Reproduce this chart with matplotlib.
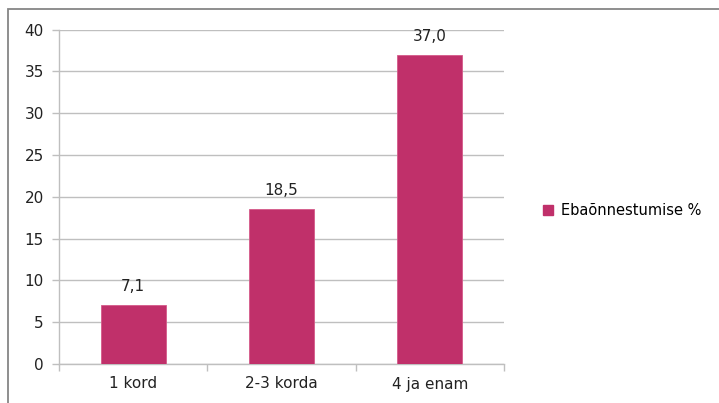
import matplotlib
matplotlib.use("Agg")
import matplotlib.pyplot as plt
from matplotlib.patches import Rectangle, Patch

categories = ["1 kord", "2-3 korda", "4 ja enam"]
values = [7.1, 18.5, 37.0]
series_name = "Ebaõnnestumise %"
yticks = [0, 5, 10, 15, 20, 25, 30, 35, 40]

bar_color = "#C0306A"
grid_color = "#BFBFBF"

plt.rcParams["font.family"] = ["DejaVu Sans"]

fig = plt.figure(figsize=(7.19, 4.03), dpi=100)
W, H = 719, 403

# outer chart frame (top and left edges visible)
fig.patches.append(Rectangle((8 / W, -0.1), 1.2, 1 - 9 / H + 0.1,
                             transform=fig.transFigure, fill=False,
                             edgecolor="#868686", linewidth=1.3))

ax = fig.add_axes([59 / W, 1 - 364 / H, (504 - 59) / W, (364 - 29.5) / H])

x = range(len(categories))
bars = ax.bar(x, values, width=0.44, color=bar_color, edgecolor="#D55A8A",
              linewidth=0.6, zorder=3, label=series_name)

for b, v in zip(bars, values):
    ax.text(b.get_x() + b.get_width() / 2, v + 1.3, f"{v:.1f}".replace(".", ","),
            ha="center", va="bottom", fontsize=11, color="#222222")

ax.set_xlim(-0.5, len(categories) - 0.5)
ax.set_ylim(0, 40)
ax.set_yticks(yticks)
ax.set_yticklabels([str(t) for t in yticks], fontsize=11, color="#222222")
ax.yaxis.grid(True, color=grid_color, linewidth=1.0, zorder=0)

ax.set_xticks(list(x))
ax.set_xticklabels(categories, fontsize=11, color="#222222")
ax.tick_params(axis="x", length=0, pad=9)
ax.set_xticks([i + 0.5 for i in range(-1, len(categories))], minor=True)
ax.tick_params(axis="x", which="minor", length=5, color=grid_color, width=1)
ax.tick_params(axis="y", length=5, color=grid_color, width=1, pad=6)

for s in ["top", "right"]:
    ax.spines[s].set_visible(False)
for s in ["left", "bottom"]:
    ax.spines[s].set_color(grid_color)
    ax.spines[s].set_linewidth(1.0)

handle = Patch(facecolor=bar_color, edgecolor=bar_color)
fig.legend([handle], [series_name], loc="center left",
           bbox_to_anchor=(530 / W, 1 - 211 / H), frameon=False,
           fontsize=10.5, handlelength=0.7, handleheight=0.7, handletextpad=0.5)

fig.savefig("out.png", dpi=100)
